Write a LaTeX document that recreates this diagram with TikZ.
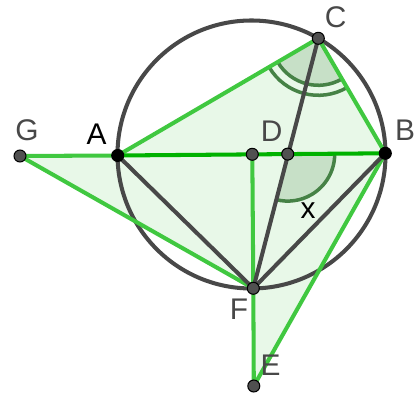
\documentclass[tikz,border=0pt]{standalone}
\usepackage{fontspec}
\setmainfont{Liberation Sans}
\usetikzlibrary{calc}
\definecolor{lgreen}{RGB}{64,200,64}
\definecolor{mgreen}{RGB}{0,178,0}
\definecolor{lfill}{RGB}{232,248,232}
\definecolor{dgray}{RGB}{72,72,72}
\definecolor{ptgray}{RGB}{80,80,80}
\definecolor{arcgreen}{RGB}{70,130,70}

\begin{document}
\begin{tikzpicture}[x=0.02cm, y=-0.02cm,
    pt/.style={circle, draw=black, fill=ptgray, inner sep=0pt, minimum size=2.4mm, line width=0.6pt},
    ptk/.style={pt, fill=black},
    lbl/.style={font=\fontsize{17}{17}\selectfont, text=dgray},
    gline/.style={draw=lgreen, line width=2.3pt},
    dline/.style={draw=dgray, line width=2.3pt},
    area/.style={fill=lfill},
    angfill/.style={fill=arcgreen, fill opacity=0.2},
    angarc/.style={draw=arcgreen, line width=2pt}]
\useasboundingbox (0,0) rectangle (415,394);
% points
\coordinate (G) at (20,156);
\coordinate (A) at (117.7,155.5);
\coordinate (D) at (252.3,154.3);
\coordinate (P) at (287.7,154.1);
\coordinate (B) at (385.3,153.3);
\coordinate (C) at (318.3,38.3);
\coordinate (F) at (253.3,288.3);
\coordinate (E) at (253.8,386);
\coordinate (O) at (251.5,154.5);
% shaded triangles
\fill[area] (A) -- (C) -- (B) -- (F) -- cycle;
\fill[area] (G) -- (A) -- (F) -- cycle;
\fill[area] (F) -- (B) -- (E) -- cycle;
% angles
\fill[angfill] (C) -- ($(C)+(59.8:47)$) arc[start angle=59.8, end angle=149.7, radius=47] -- cycle;
\draw[angarc] ($(C)+(59.8:47)$) arc[start angle=59.8, end angle=149.7, radius=47];
\draw[angarc] ($(C)+(59.8:57)$) arc[start angle=59.8, end angle=149.7, radius=57];
\fill[angfill] (P) -- ($(P)+(-0.6:47)$) arc[start angle=-0.6, end angle=104.4, radius=47] -- cycle;
\draw[angarc] ($(P)+(-0.6:47)$) arc[start angle=-0.6, end angle=104.4, radius=47];
% circle
\draw[dline] (O) circle[radius=134];
% green segments
\draw[gline] (G) -- (A);
\draw[gline] (G) -- (F);
\draw[gline] (A) -- (C);
\draw[gline] (C) -- (B);
\draw[gline, draw=mgreen] (A) -- (B);
\draw[gline] (D) -- (F);
\draw[gline] (F) -- (E);
\draw[gline] (B) -- (E);
% dark segments
\draw[dline] (A) -- (F);
\draw[dline] (F) -- (B);
\draw[dline] (C) -- (F);
% dots
\node[pt] (g) at (G) {};
\node[ptk] (a) at (A) {};
\node[pt] (d) at (D) {};
\node[pt] (p) at (P) {};
\node[ptk] (b) at (B) {};
\node[pt] (c) at (C) {};
\node[pt] (f) at (F) {};
\node[pt] (e) at (E) {};
% labels
\node[lbl] (lg) at (27,130) {G};
\node[lbl, text=black] (la) at (96.7,134.7) {A};
\node[lbl] (ld) at (271.7,131.7) {D};
\node[lbl] (lc) at (335.7,17.7) {C};
\node[lbl] (lb) at (405,130) {B};
\node[lbl] (lf) at (239,309) {F};
\node[lbl] (le) at (270.7,365) {E};
\node[lbl, text=black] (lx) at (308,211) {x};
\end{tikzpicture}
\end{document}
